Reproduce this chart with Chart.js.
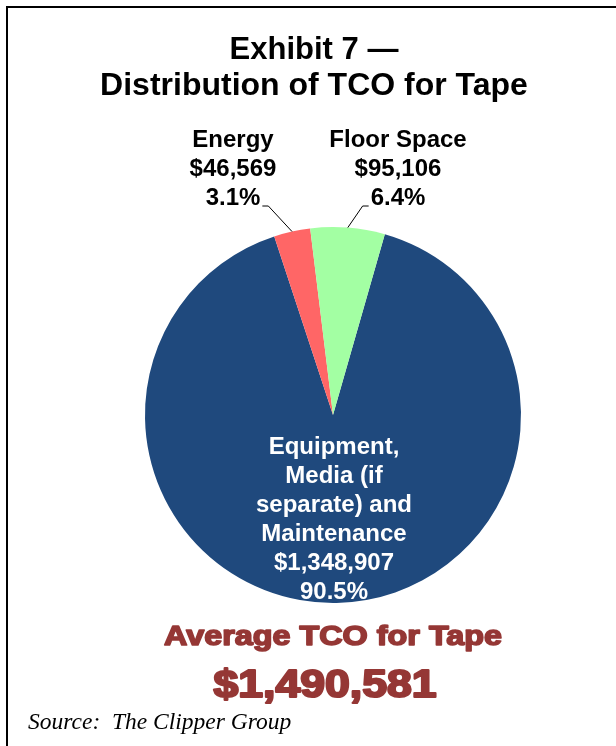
<!DOCTYPE html>
<html><head><meta charset="utf-8">
<script src="https://cdn.jsdelivr.net/npm/chart.js@4"></script>
<style>html,body{margin:0;padding:0;background:#fff;}#wrap{position:relative;width:616px;height:746px;}</style>
</head><body><div id="wrap"><canvas id="c" width="616" height="746"></canvas></div>
<script>
// ---- data ----
const categories = ["Equipment, Media (if separate) and Maintenance", "Energy", "Floor Space"];
const labelLines = [["Equipment,", "Media (if", "separate) and", "Maintenance"], ["Energy"], ["Floor Space"]];
const costs = [1348907, 46569, 95106];
const percents = [90.5, 3.1, 6.4];
const sliceColors = ["#1F497D", "#FF6666", "#A3FFA3"];
const totalTCO = 1490581;
const titleLines = ["Exhibit 7 \u2014", "Distribution of TCO for Tape"];
const summaryLabel = "Average TCO for Tape";
const sourceText = "Source:  The Clipper Group";

const fmt = v => "$" + v.toLocaleString("en-US");
const SANS = "'Liberation Sans', Arial, sans-serif";

function fitted(ctx, text, cx, base, font, targetW, color, stroke) {
  ctx.save();
  ctx.font = font;
  const w = ctx.measureText(text).width;
  const s = targetW / w;
  ctx.translate(cx, base);
  ctx.scale(s, 1);
  ctx.textAlign = "center";
  ctx.textBaseline = "alphabetic";
  ctx.fillStyle = color;
  ctx.fillText(text, 0, 0);
  if (stroke) { ctx.strokeStyle = color; ctx.lineWidth = stroke; ctx.lineJoin = "round"; ctx.strokeText(text, 0, 0); }
  ctx.restore();
}

const decor = {
  id: "decor",
  afterDraw(chart) {
    const ctx = chart.ctx;
    const meta = chart.getDatasetMeta(0);
    ctx.save();
    // frame
    ctx.strokeStyle = "#000"; ctx.lineWidth = 2;
    ctx.beginPath(); ctx.moveTo(7, 746); ctx.lineTo(7, 7); ctx.lineTo(616, 7); ctx.stroke();
    // title
    ctx.fillStyle = "#000"; ctx.textAlign = "center"; ctx.textBaseline = "alphabetic";
    ctx.font = "bold 31px " + SANS;
    ctx.fillText(titleLines[0], 314, 59);
    ctx.font = "bold 32px " + SANS;
    ctx.fillText(titleLines[1], 314, 95);

    const arcPt = (i) => {
      const a = meta.data[i];
      const mid = (a.startAngle + a.endAngle) / 2;
      return { x: a.x + Math.cos(mid) * a.outerRadius, y: a.y + Math.sin(mid) * a.outerRadius, cx: a.x, cy: a.y };
    };
    // outside labels (Energy, Floor Space)
    const outside = [{ i: 1, dx: -100, side: -1 }, { i: 2, dx: 65, side: 1 }];
    ctx.font = "bold 24px " + SANS;
    outside.forEach(o => {
      const p = arcPt(o.i);
      const tx = p.cx + o.dx;
      const lines = [...labelLines[o.i], fmt(costs[o.i]), percents[o.i].toFixed(1) + "%"];
      ctx.fillStyle = "#000"; ctx.textAlign = "center";
      lines.forEach((t, k) => ctx.fillText(t, tx, 147 + k * 29));
      const pw = ctx.measureText(lines[lines.length - 1]).width;
      const elbowY = 206;
      ctx.strokeStyle = "#000"; ctx.lineWidth = 1;
      ctx.beginPath();
      ctx.moveTo(o.side < 0 ? tx + pw / 2 + 2 : tx - pw / 2 - 2, elbowY);
      ctx.lineTo(o.side < 0 ? tx + pw / 2 + 8 : tx - pw / 2 - 8, elbowY);
      ctx.lineTo(p.x, p.y);
      ctx.stroke();
    });
    // inside label
    const a0 = meta.data[0];
    const inside = [...labelLines[0], fmt(costs[0]), percents[0].toFixed(1) + "%"];
    ctx.fillStyle = "#fff"; ctx.textAlign = "center";
    ctx.font = "bold 24px " + SANS;
    inside.forEach((t, k) => ctx.fillText(t, a0.x + 1, 454 + k * 29));
    ctx.restore();

    // summary
    fitted(ctx, summaryLabel, 333, 645, "bold 27px " + SANS, 338, "#953735", 1.6);
    fitted(ctx, fmt(totalTCO), 325, 697, "bold 39px " + SANS, 223, "#953735", 2.2);

    // source
    ctx.save();
    ctx.fillStyle = "#000"; ctx.textAlign = "left";
    ctx.font = "italic 23.5px 'Liberation Serif', 'Times New Roman', serif";
    ctx.fillText(sourceText, 28, 729);
    ctx.restore();
  }
};

new Chart(document.getElementById("c"), {
  type: "pie",
  data: {
    labels: categories,
    datasets: [{ data: costs, backgroundColor: sliceColors, borderWidth: 0, hoverOffset: 0 }]
  },
  options: {
    responsive: false,
    animation: false,
    rotation: 16,
    layout: { padding: { left: 145, right: 95, top: 227, bottom: 143 } },
    plugins: { legend: { display: false }, tooltip: { enabled: false }, title: { display: false } }
  },
  plugins: [decor]
});
</script></body></html>
